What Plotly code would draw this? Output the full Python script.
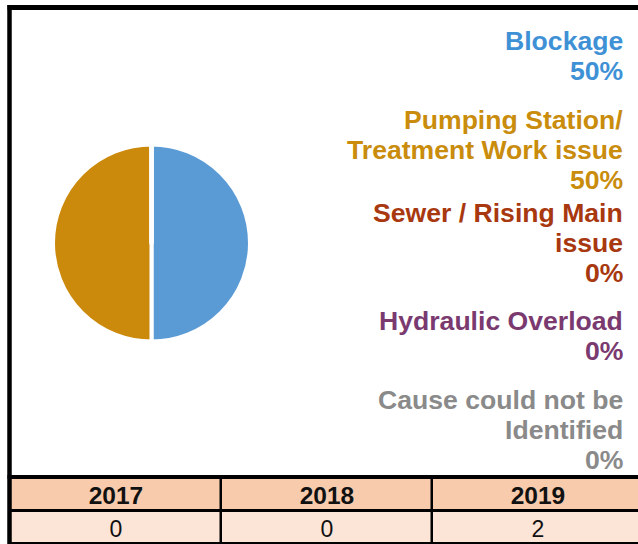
import plotly.graph_objects as go

# ---- data ----
causes = [
    "Blockage",
    "Pumping Station/\nTreatment Work issue",
    "Sewer / Rising Main\nissue",
    "Hydraulic Overload",
    "Cause could not be\nIdentified",
]
cause_counts = [1, 1, 0, 0, 0]
years = ["2017", "2018", "2019"]
year_counts = [0, 0, 2]

# ---- styles ----
pie_colors = ["#5B9BD5", "#CC8A0C", "#A8380F", "#7A3A70", "#8A8A8A"]
text_colors = ["#3F91D6", "#C98C0C", "#A8380F", "#7A3A70", "#8A8A8A"]
W, H = 638, 544
FONT = "Liberation Sans, Arial, sans-serif"

def px(x):
    return x / W

def py(y):
    return 1 - y / H

fig = go.Figure()

fig.add_trace(go.Pie(
    labels=[c.replace("\n", " ") for c in causes],
    values=cause_counts,
    marker=dict(colors=pie_colors, line=dict(color="white", width=4)),
    sort=False,
    direction="clockwise",
    rotation=0,
    textinfo="none",
    hoverinfo="label+percent",
    showlegend=False,
    domain=dict(x=[px(53), px(250)], y=[py(341.5), py(144.5)]),
))

# year table drawn as a two-row heatmap (header row on top)
row_names = ["count", "year"]
fig.add_trace(go.Heatmap(
    x=years,
    y=row_names,
    z=[[0] * len(years), [1] * len(years)],
    text=[[f"<span style='font-size:23px'>{v}</span>" for v in year_counts],
          [f"<b>{y}</b>" for y in years]],
    texttemplate="%{text}",
    textfont=dict(family=FONT, size=24.5, color="#111111"),
    colorscale=[[0, "#FCE4D6"], [1, "#F8CBAD"]],
    zmin=0, zmax=1,
    showscale=False,
    xgap=2.5, ygap=3,
    hoverinfo="skip",
    xaxis="x", yaxis="y",
))

# legend-like labels (right aligned)
total = sum(cause_counts)
group_tops = [41, 120, 213, 321, 400]
line_gap = 30
annotations = []
for cause, cnt, col, top in zip(causes, cause_counts, text_colors, group_tops):
    lines = cause.split("\n") + [f"{round(100 * cnt / total)}%"]
    for i, ln in enumerate(lines):
        annotations.append(dict(
            text=f"<b>{ln}</b>",
            x=px(625), y=py(top + i * line_gap),
            xref="paper", yref="paper",
            xanchor="right", yanchor="middle",
            showarrow=False,
            font=dict(family=FONT, size=26.6, color=col),
        ))

col_px = 211
x_len = W - 10
fig.update_layout(
    width=W, height=H,
    margin=dict(l=0, r=0, t=0, b=0),
    paper_bgcolor="white",
    plot_bgcolor="black",
    annotations=annotations,
    xaxis=dict(domain=[px(10), 1], range=[-0.5, -0.5 + x_len / col_px],
               showticklabels=False, showgrid=False, zeroline=False,
               ticks="", fixedrange=True, type="category"),
    yaxis=dict(domain=[0, py(478)], range=[-0.5, 1.5],
               showticklabels=False, showgrid=False, zeroline=False,
               ticks="", fixedrange=True, type="category"),
    shapes=[
        dict(type="line", xref="paper", yref="paper",
             x0=px(9.5), x1=px(9.5), y0=py(5), y1=-0.05,
             line=dict(color="black", width=4.5)),
        dict(type="line", xref="paper", yref="paper",
             x0=px(7.5), x1=1.05, y0=py(7.5), y1=py(7.5),
             line=dict(color="black", width=5)),
        dict(type="line", xref="paper", yref="paper",
             x0=px(7.5), x1=1.05, y0=py(477), y1=py(477),
             line=dict(color="black", width=4)),
    ],
)

fig.write_html(
    "out.html",
    config={"displayModeBar": False},
    post_script="document.body.style.margin='0';document.body.style.padding='0';",
)
